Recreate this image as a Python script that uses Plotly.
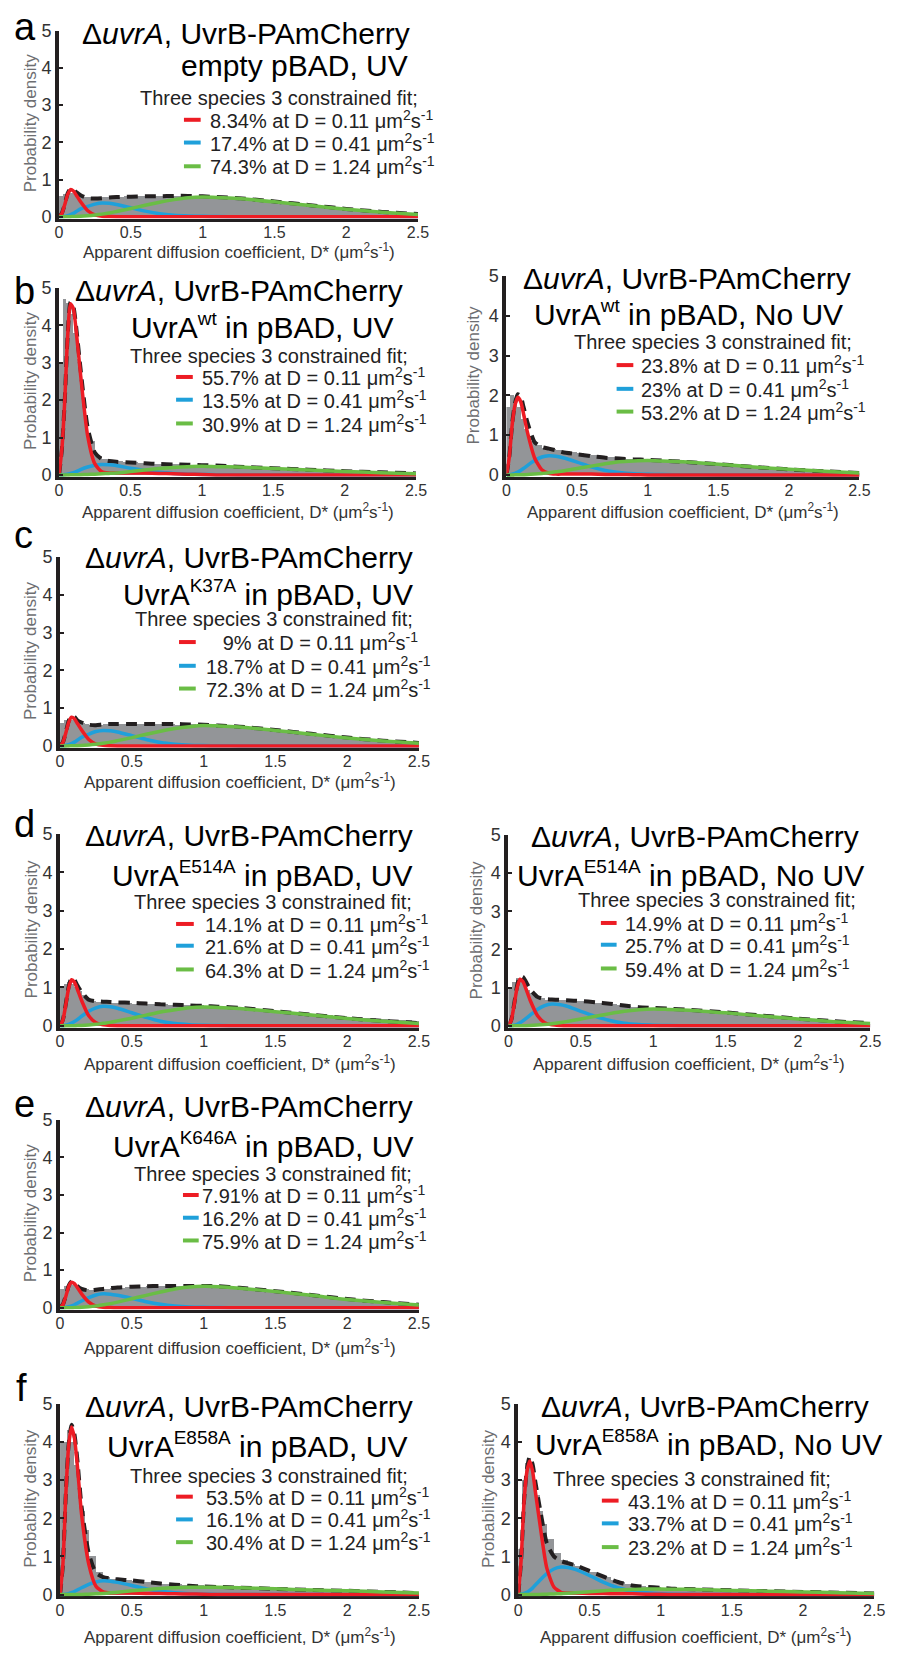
import plotly.graph_objects as go

W, H = 899, 1656
FONT = "Liberation Sans, Arial, Helvetica, sans-serif"
RED, BLUE, GREEN, BLACK, GRAY = "#ED1C24", "#1FA0DA", "#6ABD45", "#231F20", "#939598"

# ---------------- data ----------------
# sample points (D*, um^2/s) at which the fitted curves were read off the picture
XC = [0, .02, .04, .06, .08, .10, .12, .15, .20, .25, .30, .35, .40,
      .50, .60, .70, .80, .90, 1.00, 1.10, 1.25, 1.50, 1.75, 2.00, 2.25, 2.50]
# histogram bin edges
HIST_EDGES = [0, .025, .05, .075, .1, .125, .15, .175, .2, .25, .3, .35, .4, .45, .5, .55, .6, .65, .7,
              .75, .8, .85, .9, .95, 1.0, 1.05, 1.1, 1.15, 1.2, 1.25, 1.3, 1.35, 1.4, 1.45, 1.5,
              1.55, 1.6, 1.65, 1.7, 1.75, 1.8, 1.85, 1.9, 1.95, 2.0, 2.05, 2.1, 2.15, 2.2, 2.25,
              2.3, 2.35, 2.4, 2.45, 2.5]
X_TICKS = [0, 0.5, 1, 1.5, 2, 2.5]
X_TICK_TEXT = ["0", "0.5", "1", "1.5", "2", "2.5"]
Y_TICKS = [0, 1, 2, 3, 4, 5]
D_VALUES = ["0.11", "0.41", "1.24"]

# panel a
HIST_A = [.55, .62, .66, .64, .6, .58, .55, .53,
          .52, .51, .53, .55, .54, .55, .56, .55, .56, .57,
          .55, .56, .57, .55, .56, .57, .54, .53, .52, .51,
          .5, .49, .47, .45, .44, .42, .41, .39, .37, .35,
          .33, .31, .29, .27, .25, .23, .21, .2, .18, .16,
          .15, .13, .12, .1, .09, .08]
RED_A = [0, .09, .33, .60, .73, .69, .58, .40, .16, .05, .015, .005, 0, 0, 0, 0, 0, 0, 0, 0, 0, 0, 0, 0, 0, 0]
BLUE_A = [0, .003, .01, .03, .055, .09, .14, .21, .28, .34, .37, .36, .33, .24, .15, .08, .04, .02, .01, .005, 0, 0, 0, 0, 0, 0]
GREEN_A = [0, 0, 0, .001, .002, .004, .006, .01, .025, .045, .07, .1, .14, .22, .31, .39, .46, .51, .53, .52, .49, .40, .30, .20, .12, .06]
TOTAL_A = [0, .1, .34, .63, .76, .73, .66, .58, .5, .49, .5, .52, .53, .54, .55, .55, .56, .56, .55, .53, .5, .41, .31, .21, .13, .07]
PCT_A = ["8.34", "17.4", "74.3"]

# panel b (left)
HIST_BL = [3.0, 4.7, 4.6, 4.3, 3.8, 3.1, 2.4, 1.6,
           .9, .5, .43, .4, .37, .35, .34, .32, .31, .3,
           .29, .28, .28, .27, .27, .26, .25, .25, .24, .23,
           .22, .21, .2, .19, .18, .18, .17, .16, .15, .14,
           .13, .13, .12, .11, .1, .1, .09, .08, .08, .07,
           .07, .06, .06, .05, .05, .04]
RED_BL = [0, .7, 2.0, 3.7, 4.58, 4.45, 3.85, 2.7, 1.05, .3, .08, .05, .05, .05, .05, .04, .03, .02, .01, 0, 0, 0, 0, 0, 0, 0]
BLUE_BL = [0, 0, .01, .02, .04, .06, .09, .14, .21, .26, .28, .27, .25, .18, .12, .07, .04, .02, .01, .005, 0, 0, 0, 0, 0, 0]
GREEN_BL = [0, 0, 0, 0, .001, .002, .003, .005, .01, .02, .03, .04, .05, .09, .13, .17, .2, .22, .23, .22, .21, .17, .13, .09, .06, .03]
TOTAL_BL = [0, .7, 2.0, 3.72, 4.62, 4.5, 3.95, 2.85, 1.27, .6, .42, .37, .35, .33, .31, .29, .28, .27, .26, .25, .22, .18, .14, .1, .07, .04]
PCT_BL = ["55.7", "13.5", "30.9"]

# panel b (right)
HIST_BR = [1.7, 2.0, 1.9, 1.7, 1.4, 1.15, .95, .85,
           .75, .68, .65, .62, .6, .57, .55, .52, .5, .48,
           .46, .44, .42, .41, .4, .39, .38, .37, .36, .35,
           .34, .33, .31, .3, .28, .27, .26, .24, .23, .21,
           .2, .19, .18, .16, .15, .14, .13, .12, .11, .1,
           .09, .08, .07, .07, .06, .05]
RED_BR = [0, .45, 1.25, 1.75, 1.95, 1.85, 1.55, 1.05, .42, .13, .04, .02, .02, .02, .02, .01, .01, .005, 0, 0, 0, 0, 0, 0, 0, 0]
BLUE_BR = [0, .005, .02, .04, .07, .11, .16, .24, .36, .45, .48, .47, .43, .32, .2, .11, .06, .03, .015, .007, .002, 0, 0, 0, 0, 0]
GREEN_BR = [0, 0, 0, .001, .002, .003, .005, .008, .02, .035, .055, .08, .1, .16, .22, .28, .33, .35, .36, .35, .33, .27, .2, .14, .09, .05]
TOTAL_BR = [0, .46, 1.28, 1.8, 2.03, 1.98, 1.72, 1.3, .82, .7, .66, .62, .57, .52, .47, .43, .41, .39, .38, .36, .33, .27, .2, .14, .09, .05]
PCT_BR = ["23.8", "23", "53.2"]

# panel c
HIST_C = [.6, .68, .7, .68, .65, .62, .6, .57,
          .56, .55, .57, .58, .57, .58, .59, .57, .58, .58,
          .57, .58, .56, .57, .58, .56, .55, .54, .53, .52,
          .5, .49, .47, .45, .44, .42, .41, .39, .37, .35,
          .33, .31, .29, .27, .25, .24, .22, .2, .18, .17,
          .15, .14, .12, .11, .1, .09]
RED_C = [0, .09, .34, .62, .76, .72, .6, .42, .17, .05, .015, .005, 0, 0, 0, 0, 0, 0, 0, 0, 0, 0, 0, 0, 0, 0]
BLUE_C = [0, .003, .012, .03, .06, .1, .15, .23, .31, .38, .41, .4, .37, .27, .17, .09, .045, .02, .01, .005, 0, 0, 0, 0, 0, 0]
GREEN_C = [0, 0, 0, .001, .002, .004, .006, .01, .025, .045, .07, .1, .14, .22, .31, .39, .46, .51, .54, .53, .5, .41, .31, .21, .13, .07]
TOTAL_C = [0, .1, .36, .66, .8, .77, .68, .62, .56, .55, .57, .58, .58, .58, .58, .58, .58, .57, .56, .54, .51, .42, .32, .22, .14, .08]
PCT_C = ["\u00a0\u00a0\u00a09", "18.7", "72.3"]

# panel d (left)
HIST_DL = [1.0, 1.1, 1.15, 1.1, 1.0, .9, .8, .72,
           .66, .62, .61, .6, .6, .59, .58, .58, .57, .56,
           .56, .55, .55, .54, .53, .53, .52, .51, .5, .49,
           .47, .46, .45, .43, .42, .4, .38, .36, .34, .32,
           .3, .29, .28, .27, .26, .25, .24, .22, .21, .2,
           .19, .18, .16, .15, .14, .12]
RED_DL = [0, .15, .55, .98, 1.2, 1.14, .96, .66, .26, .08, .025, .008, .003, 0, 0, 0, 0, 0, 0, 0, 0, 0, 0, 0, 0, 0]
BLUE_DL = [0, .004, .015, .035, .07, .11, .16, .25, .38, .47, .51, .5, .46, .34, .22, .12, .06, .03, .015, .007, .002, 0, 0, 0, 0, 0]
GREEN_DL = [0, 0, 0, .001, .002, .004, .006, .01, .023, .04, .065, .09, .13, .2, .28, .36, .42, .47, .49, .48, .45, .37, .28, .19, .12, .06]
TOTAL_DL = [0, .16, .57, 1.02, 1.25, 1.2, 1.06, .88, .68, .64, .63, .62, .61, .6, .58, .56, .55, .53, .52, .5, .47, .38, .29, .2, .13, .07]
PCT_DL = ["14.1", "21.6", "64.3"]

# panel d (right)
HIST_DR = [1.0, 1.15, 1.25, 1.2, 1.05, .95, .85, .78,
           .72, .68, .68, .67, .66, .65, .64, .62, .6, .58,
           .56, .54, .52, .5, .49, .48, .47, .46, .45, .44,
           .42, .41, .39, .37, .35, .33, .31, .3, .28, .26,
           .25, .23, .21, .2, .19, .17, .16, .15, .14, .13,
           .12, .11, .1, .09, .08, .07]
RED_DR = [0, .15, .56, 1.0, 1.22, 1.16, .98, .67, .27, .08, .025, .008, .003, 0, 0, 0, 0, 0, 0, 0, 0, 0, 0, 0, 0, 0]
BLUE_DR = [0, .005, .017, .04, .08, .13, .19, .28, .43, .53, .57, .56, .52, .38, .25, .14, .07, .035, .017, .008, .003, 0, 0, 0, 0, 0]
GREEN_DR = [0, 0, 0, .001, .002, .003, .005, .009, .02, .035, .055, .08, .11, .18, .25, .32, .38, .42, .44, .43, .41, .34, .26, .18, .11, .06]
TOTAL_DR = [0, .16, .58, 1.05, 1.3, 1.28, 1.16, .96, .76, .7, .69, .68, .67, .65, .62, .58, .53, .49, .47, .45, .42, .35, .27, .19, .12, .07]
PCT_DR = ["14.9", "25.7", "59.4"]

# panel e
HIST_E = [.5, .58, .6, .6, .57, .55, .52, .5,
          .48, .48, .5, .52, .53, .55, .56, .55, .57, .58,
          .57, .58, .59, .58, .57, .58, .57, .56, .55, .54,
          .53, .51, .49, .47, .46, .44, .42, .4, .38, .36,
          .34, .32, .3, .28, .26, .24, .23, .21, .19, .17,
          .16, .14, .13, .11, .1, .09]
RED_E = [0, .08, .3, .56, .68, .64, .54, .37, .15, .045, .012, .004, 0, 0, 0, 0, 0, 0, 0, 0, 0, 0, 0, 0, 0, 0]
BLUE_E = [0, .003, .01, .025, .05, .08, .12, .18, .27, .34, .37, .36, .33, .25, .16, .09, .045, .02, .01, .005, 0, 0, 0, 0, 0, 0]
GREEN_E = [0, 0, 0, .001, .002, .004, .006, .012, .028, .05, .08, .11, .15, .24, .33, .42, .5, .55, .57, .56, .52, .43, .33, .22, .14, .07]
TOTAL_E = [0, .09, .32, .58, .7, .67, .58, .5, .46, .48, .5, .52, .54, .56, .57, .58, .58, .58, .58, .57, .53, .44, .34, .23, .15, .08]
PCT_E = ["7.91", "16.2", "75.9"]

# panel f (left)
HIST_FL = [4.0, 4.0, 4.3, 4.0, 3.4, 2.8, 2.2, 1.7,
           1.0, .6, .47, .42, .4, .38, .36, .34, .32, .3,
           .29, .28, .27, .26, .25, .24, .23, .23, .22, .21,
           .2, .19, .19, .18, .17, .16, .15, .15, .14, .13,
           .12, .12, .11, .1, .1, .09, .09, .08, .07, .07,
           .06, .06, .05, .05, .04, .04]
RED_FL = [0, .8, 2.6, 3.9, 4.39, 4.1, 3.4, 2.1, .8, .22, .07, .04, .04, .04, .03, .03, .02, .015, .01, 0, 0, 0, 0, 0, 0, 0]
BLUE_FL = [0, 0, .01, .025, .05, .08, .12, .18, .27, .33, .36, .35, .32, .24, .15, .09, .05, .025, .012, .005, 0, 0, 0, 0, 0, 0]
GREEN_FL = [0, 0, 0, 0, .001, .002, .003, .005, .01, .02, .03, .045, .06, .1, .13, .16, .18, .19, .19, .19, .18, .15, .12, .1, .07, .04]
TOTAL_FL = [0, .8, 2.62, 3.93, 4.45, 4.2, 3.55, 2.3, 1.08, .57, .46, .42, .4, .37, .33, .29, .26, .23, .21, .2, .18, .15, .12, .1, .07, .04]
PCT_FL = ["53.5", "16.1", "30.4"]

# panel f (right)
HIST_FR = [1.2, 3.0, 3.45, 3.35, 3.0, 2.6, 2.2, 1.85,
           1.45, 1.1, .9, .8, .74, .68, .6, .52, .45, .38,
           .32, .27, .24, .22, .2, .19, .18, .17, .16, .15,
           .14, .14, .13, .12, .12, .11, .11, .1, .1, .09,
           .09, .08, .08, .07, .07, .07, .06, .06, .05, .05,
           .05, .04, .04, .04, .03, .03]
RED_FR = [0, .9, 2.4, 3.2, 3.5, 3.25, 2.7, 1.9, .7, .2, .06, .04, .04, .03, .03, .02, .02, .01, .01, 0, 0, 0, 0, 0, 0, 0]
BLUE_FR = [0, .01, .03, .06, .11, .17, .25, .37, .55, .67, .72, .71, .66, .5, .32, .18, .09, .045, .02, .01, .004, 0, 0, 0, 0, 0]
GREEN_FR = [0, 0, 0, 0, .001, .002, .003, .005, .01, .015, .025, .035, .05, .075, .1, .12, .135, .145, .145, .14, .135, .11, .09, .07, .05, .03]
TOTAL_FR = [0, .91, 2.43, 3.26, 3.61, 3.42, 2.95, 2.3, 1.35, 1.0, .88, .82, .77, .62, .47, .33, .24, .2, .18, .15, .14, .11, .09, .07, .05, .03]
PCT_FR = ["43.1", "33.7", "23.2"]

SUP = '<sup><span style="font-size:19px">{}</span></sup>'
TITLE1 = "\u0394<i>uvrA</i>, UvrB-PAmCherry"
TITLE2 = {
    "a": "empty pBAD, UV",
    "bL": "UvrA" + SUP.format("wt") + " in pBAD, UV",
    "bR": "UvrA" + SUP.format("wt") + " in pBAD, No UV",
    "c": "UvrA" + SUP.format("K37A") + " in pBAD, UV",
    "dL": "UvrA" + SUP.format("E514A") + " in pBAD, UV",
    "dR": "UvrA" + SUP.format("E514A") + " in pBAD, No UV",
    "e": "UvrA" + SUP.format("K646A") + " in pBAD, UV",
    "fL": "UvrA" + SUP.format("E858A") + " in pBAD, UV",
    "fR": "UvrA" + SUP.format("E858A") + " in pBAD, No UV",
}
HEADER = "Three species 3 constrained fit;"
X_TITLE = "Apparent diffusion coefficient, D* (\u03bcm<sup>2</sup>s<sup>-1</sup>)"
Y_TITLE = "Probability density"

DATA = {
    "a": (HIST_A, RED_A, BLUE_A, GREEN_A, TOTAL_A, PCT_A),
    "bL": (HIST_BL, RED_BL, BLUE_BL, GREEN_BL, TOTAL_BL, PCT_BL),
    "bR": (HIST_BR, RED_BR, BLUE_BR, GREEN_BR, TOTAL_BR, PCT_BR),
    "c": (HIST_C, RED_C, BLUE_C, GREEN_C, TOTAL_C, PCT_C),
    "dL": (HIST_DL, RED_DL, BLUE_DL, GREEN_DL, TOTAL_DL, PCT_DL),
    "dR": (HIST_DR, RED_DR, BLUE_DR, GREEN_DR, TOTAL_DR, PCT_DR),
    "e": (HIST_E, RED_E, BLUE_E, GREEN_E, TOTAL_E, PCT_E),
    "fL": (HIST_FL, RED_FL, BLUE_FL, GREEN_FL, TOTAL_FL, PCT_FL),
    "fR": (HIST_FR, RED_FR, BLUE_FR, GREEN_FR, TOTAL_FR, PCT_FR),
}

# ---------------- layout (pixel positions) ----------------
# box: x(D=0), x(D=2.5), y(5), y(0); letter: (text, x, baseline)
LAYOUT = {
    "a":  dict(box=(56, 421, 21, 209), letter=("a", 8, 31), t1=(415, 35), t2=(413, 67), hd=(423, 97),
               ex=207, eb=(120, 143, 167), seg=(183, 200), ytx=27, xty=244),
    "bL": dict(box=(56, 419, 281, 470), letter=("b", 8, 298), t1=(408, 295), t2=(398, 332), hd=(413, 358),
               ex=199, eb=(380, 403, 427), seg=(175, 192), ytx=27, xty=507),
    "bR": dict(box=(511, 870, 269, 470), letter=None, t1=(863, 283), t2=(855, 319), hd=(864, 344),
               ex=646, eb=(368, 392, 415), seg=(623, 640), ytx=477, xty=507),
    "c":  dict(box=(57, 422, 553, 744), letter=("c", 8, 545), t1=(418, 565), t2=(418, 602), hd=(418, 624),
               ex=203, eb=(648, 672, 695), seg=(178, 195), ytx=27, xty=779),
    "dL": dict(box=(57, 422, 833, 1027), letter=("d", 8, 837), t1=(418, 846), t2=(417, 886), hd=(417, 910),
               ex=202, eb=(933, 955, 979), seg=(175, 193), ytx=28, xty=1065),
    "dR": dict(box=(513, 881, 834, 1027), letter=None, t1=(872, 847), t2=(877, 886), hd=(868, 908),
               ex=630, eb=(932, 954, 978), seg=(607, 623), ytx=480, xty=1065),
    "e":  dict(box=(57, 422, 1122, 1312), letter=("e", 8, 1120), t1=(418, 1120), t2=(418, 1160), hd=(417, 1185),
               ex=199, eb=(1207, 1230, 1253), seg=(182, 198), ytx=27, xty=1352),
    "fL": dict(box=(57, 422, 1409, 1602), letter=("f", 10, 1407), t1=(418, 1423), t2=(412, 1464), hd=(413, 1490),
               ex=203, eb=(1512, 1535, 1558), seg=(175, 192), ytx=27, xty=1644),
    "fR": dict(box=(523, 885, 1409, 1602), letter=None, t1=(882, 1423), t2=(895, 1462), hd=(843, 1493),
               ex=633, eb=(1516, 1539, 1563), seg=(608, 625), ytx=492, xty=1644),
}

T_SIZE, H_SIZE, E_SIZE, L_SIZE = 30, 20, 20, 38


def px(x):
    return x / W


def py(y):
    return 1 - y / H


def base_bottom(baseline, size):
    # paper y of an annotation's bottom edge so that its text sits on `baseline`
    return py(baseline + 0.212 * size + 1)


centers = [(HIST_EDGES[i] + HIST_EDGES[i + 1]) / 2 for i in range(len(HIST_EDGES) - 1)]
widths = [HIST_EDGES[i + 1] - HIST_EDGES[i] for i in range(len(HIST_EDGES) - 1)]

fig = go.Figure()
annotations, shapes, axes = [], [], {}

for n, key in enumerate(["a", "bL", "bR", "c", "dL", "dR", "e", "fL", "fR"], start=1):
    hist, red, blue, green, total, pct = DATA[key]
    L = LAYOUT[key]
    xr = "x" if n == 1 else f"x{n}"
    yr = "y" if n == 1 else f"y{n}"
    x0, x1, yt, yb = L["box"]
    ppu = (yb - yt) / 5.0
    ybe = yb + 0.05 * ppu
    axes["xaxis" if n == 1 else f"xaxis{n}"] = dict(
        domain=[px(x0), px(x1)], range=[0, 2.5], anchor=yr,
        tickvals=X_TICKS, ticktext=X_TICK_TEXT, showline=True, linecolor=BLACK, linewidth=3,
        ticks="", showgrid=False, zeroline=False, layer="below traces",
        tickfont=dict(size=16, color="#333333", family=FONT), ticklabelstandoff=-3)
    axes["yaxis" if n == 1 else f"yaxis{n}"] = dict(
        domain=[py(ybe), py(yt)], range=[-0.05, 5], anchor=xr,
        tickvals=Y_TICKS, showline=True, linecolor=BLACK, linewidth=4,
        ticks="inside", ticklen=4, tickwidth=2, tickcolor=BLACK,
        showgrid=False, zeroline=False, layer="above traces",
        tickfont=dict(size=18, color="#333333", family=FONT), ticklabelstandoff=0)

    fig.add_trace(go.Bar(x=centers, y=hist, width=widths, marker=dict(color=GRAY, line=dict(width=0)),
                         xaxis=xr, yaxis=yr, showlegend=False, hoverinfo="skip"))
    fig.add_trace(go.Scatter(x=XC, y=total, mode="lines", xaxis=xr, yaxis=yr, showlegend=False,
                             line=dict(color=BLACK, width=4, dash="11px,7px", shape="spline", smoothing=0.6)))
    for ys, col in ((blue, BLUE), (red, RED), (green, GREEN)):
        fig.add_trace(go.Scatter(x=XC, y=ys, mode="lines", xaxis=xr, yaxis=yr, showlegend=False,
                                 line=dict(color=col, width=3.5, shape="spline", smoothing=0.6)))

    # panel letter
    if L["letter"]:
        t, lx, lb = L["letter"]
        annotations.append(dict(text=t, x=px(lx), y=base_bottom(lb, L_SIZE), xref="paper", yref="paper",
                                xanchor="left", yanchor="bottom", showarrow=False,
                                font=dict(size=L_SIZE, color="black", family=FONT)))
    # titles
    for (tx, tb), txt in ((L["t1"], TITLE1), (L["t2"], TITLE2[key])):
        annotations.append(dict(text=txt, x=px(tx), y=base_bottom(tb, T_SIZE), xref="paper", yref="paper",
                                xanchor="right", yanchor="bottom", showarrow=False,
                                font=dict(size=T_SIZE, color="black", family=FONT)))
    hx, hb = L["hd"]
    annotations.append(dict(text=HEADER, x=px(hx), y=base_bottom(hb, H_SIZE), xref="paper", yref="paper",
                            xanchor="right", yanchor="bottom", showarrow=False,
                            font=dict(size=H_SIZE, color="#222222", family=FONT)))
    for p, dv, b, col in zip(pct, D_VALUES, L["eb"], (RED, BLUE, GREEN)):
        txt = f"{p}% at D = {dv} \u03bcm<sup>2</sup>s<sup>-1</sup>"
        annotations.append(dict(text=txt, x=px(L["ex"]), y=base_bottom(b, E_SIZE), xref="paper", yref="paper",
                                xanchor="left", yanchor="bottom", showarrow=False,
                                font=dict(size=E_SIZE, color="#222222", family=FONT)))
        sy = py(b - 0.45 * E_SIZE)
        shapes.append(dict(type="line", xref="paper", yref="paper", x0=px(L["seg"][0]), x1=px(L["seg"][1]),
                           y0=sy, y1=sy, line=dict(color=col, width=4)))
    # axis titles
    annotations.append(dict(text=Y_TITLE, x=px(L["ytx"]), y=py((yt + yb) / 2), xref="paper", yref="paper",
                            xanchor="center", yanchor="middle", textangle=-90, showarrow=False,
                            font=dict(size=17, color="#6D6E71", family=FONT)))
    annotations.append(dict(text=X_TITLE, x=px((x0 + x1) / 2), y=py(L["xty"]), xref="paper", yref="paper",
                            xanchor="center", yanchor="middle", showarrow=False,
                            font=dict(size=17, color="#333333", family=FONT)))

fig.update_layout(width=W, height=H, margin=dict(l=0, r=0, t=0, b=0), autosize=False,
                  paper_bgcolor="white", plot_bgcolor="white", barmode="overlay", bargap=0,
                  showlegend=False, font=dict(family=FONT),
                  annotations=annotations, shapes=shapes, **axes)
fig.write_html("out.html", config={"displayModeBar": False, "staticPlot": True},
               post_script="document.body.style.margin='0';document.body.style.overflow='hidden';")
